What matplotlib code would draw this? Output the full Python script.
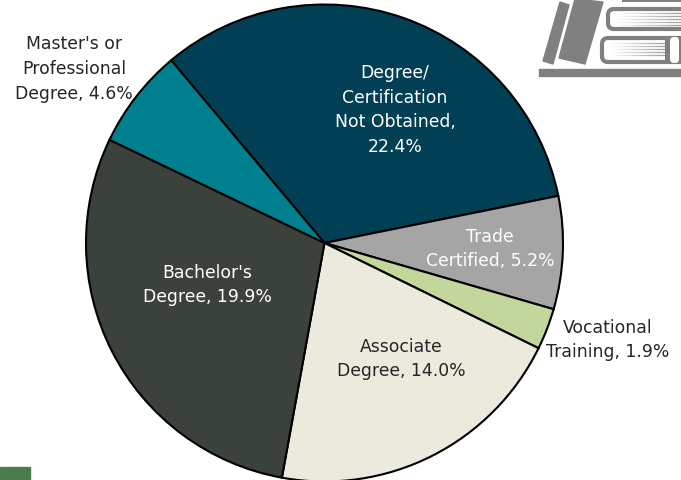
import matplotlib
matplotlib.use('Agg')
import matplotlib.pyplot as plt
from matplotlib.patches import FancyBboxPatch, Polygon, Rectangle

W, H = 681, 481

categories = ['Degree/\nCertification\nNot Obtained,\n22.4%', 'Trade\nCertified, 5.2%',
              'Vocational\nTraining, 1.9%', 'Associate\nDegree, 14.0%',
              "Bachelor's\nDegree, 19.9%", "Master's or\nProfessional\nDegree, 4.6%"]
values = [22.4, 5.2, 1.9, 14.0, 19.9, 4.6]
colors = ['#003F54', '#A5A5A5', '#C3D69B', '#ECE9DD', '#3B423C', '#007F8F']
label_colors = ['white', 'white', '#262626', '#262626', 'white', '#262626']
# label centres in picture pixels
label_pos = [(395, 110), (490, 249), (608, 340), (401, 359), (207, 285), (74, 69)]

plt.rcParams['font.family'] = ['DejaVu Sans']

fig = plt.figure(figsize=(W / 100, H / 100), dpi=100)
ax = fig.add_axes([0, 0, 1, 1])
ax.set_xlim(0, W)
ax.set_ylim(H, 0)
ax.set_axis_off()

# inverted y axis flips the pie, so draw in a second axes with y going up
pie_ax = fig.add_axes([0, 0, 1, 1], zorder=1)
pie_ax.set_axis_off()
pie_ax.patch.set_alpha(0)
pie_ax.pie(values, colors=colors, startangle=130, counterclock=False,
           center=(324.5, H - 244), radius=238.5, frame=False,
           wedgeprops={'edgecolor': 'black', 'linewidth': 1.5})
pie_ax.set_xlim(0, W)
pie_ax.set_ylim(0, H)
pie_ax.set_aspect('auto')

for name, col, (x, y) in zip(categories, label_colors, label_pos):
    pie_ax.text(x, H - y, name, color=col, fontsize=12.4, ha='center', va='center',
                linespacing=1.48)

# book logo, top right
grey = '#808080'
ax.add_patch(Rectangle((539, 70), 142, 6.5, color=grey))
ax.add_patch(Polygon([(560, 3), (569, 6), (553, 65), (543, 62)], color=grey))
ax.add_patch(Polygon([(575, 0), (603, 3), (585, 65), (559, 59)], color=grey))
ax.add_patch(FancyBboxPatch((608, 10), 90, 20, boxstyle='round,pad=0,rounding_size=6',
                            fc='white', ec=grey, lw=3))
ax.add_patch(FancyBboxPatch((602, 39), 90, 24, boxstyle='round,pad=0,rounding_size=6',
                            fc='white', ec=grey, lw=3))
ax.add_patch(Rectangle((665, 40), 16, 24, fc=grey, lw=0))
ax.add_patch(FancyBboxPatch((670, 38), 9, 26, boxstyle='round,pad=0,rounding_size=4',
                            fc='white', lw=0))
ax.add_patch(Rectangle((622, 0), 59, 3, fc=grey, lw=0))

# page edges fade in from the left
for ys, x0, x1 in [((14, 17, 20, 23, 26), 618, 681), ((44, 47, 50, 53, 56), 612, 665)]:
    for y in ys:
        step = (x1 - x0) / 20
        for i in range(20):
            ax.plot([x0 + i * step, x0 + (i + 1) * step], [y, y], color=grey,
                    alpha=(i + 1) / 20 * 0.8, lw=0.9, solid_capstyle='butt')

# green block, bottom left
ax.add_patch(Rectangle((0, 468), 30, 13, color='#4A7C4E'))

fig.savefig('out.png', dpi=100)
